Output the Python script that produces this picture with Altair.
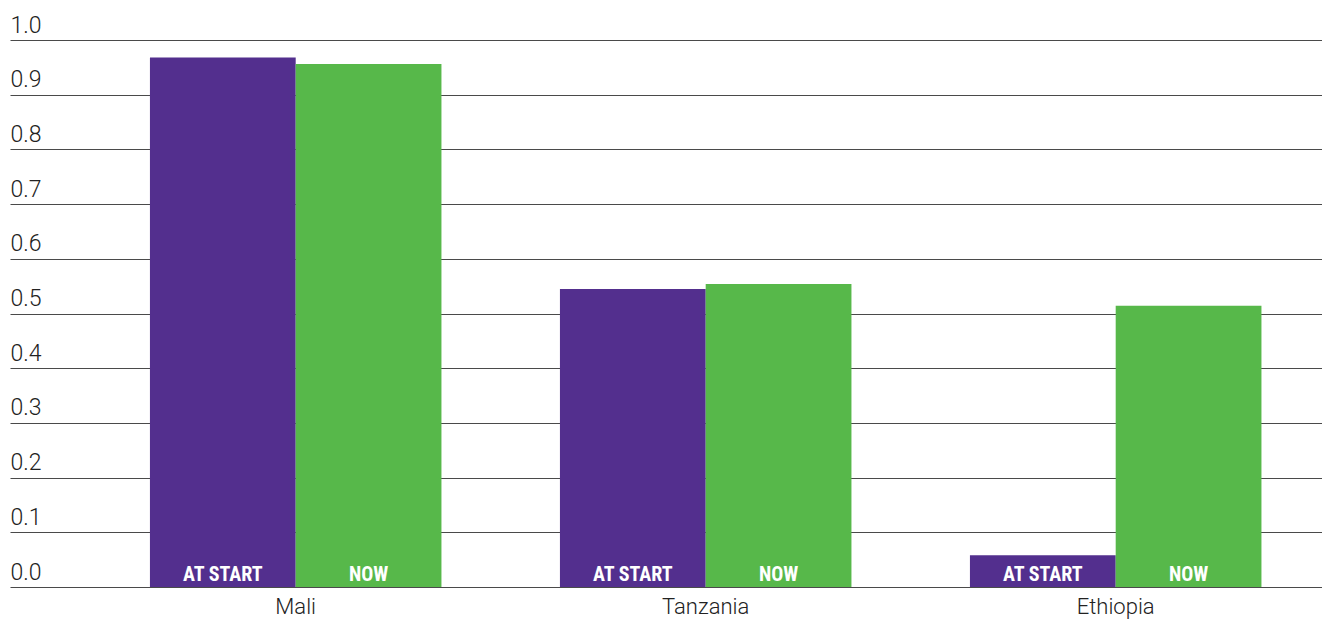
import altair as alt
import pandas as pd

countries = ["Mali", "Tanzania", "Ethiopia"]
at_start = [0.968, 0.545, 0.058]
now = [0.956, 0.554, 0.514]
series = ["AT START", "NOW"]
colors = ["#532F8E", "#57B84A"]
y_ticks = [0.0, 0.1, 0.2, 0.3, 0.4, 0.5, 0.6, 0.7, 0.8, 0.9, 1.0]

rows = []
for c, a, n in zip(countries, at_start, now):
    rows.append({"country": c, "series": series[0], "value": a})
    rows.append({"country": c, "series": series[1], "value": n})
df = pd.DataFrame(rows)

x = alt.X(
    "country:N",
    sort=countries,
    title=None,
    scale=alt.Scale(paddingInner=0.289, paddingOuter=0.2445, align=0.698),
    axis=alt.Axis(
        labelAngle=0, domain=False, ticks=False, labelPadding=26,
        labelFontSize=22, labelFont="Roboto", labelFontWeight=300,
        labelColor="#222222", labelBaseline="alphabetic",
    ),
)
xoff = alt.XOffset("series:N", sort=series, scale=alt.Scale(paddingInner=0, paddingOuter=0))

bars = alt.Chart(df).mark_bar(strokeWidth=0).encode(
    x=x,
    xOffset=xoff,
    y=alt.Y(
        "value:Q",
        title=None,
        scale=alt.Scale(domain=[0, 1], nice=False),
        axis=alt.Axis(
            values=y_ticks, format=".1f", domain=False, ticks=False,
            grid=True, gridColor="#4a4a4a", gridWidth=1.2, gridOpacity=1,
            labelAlign="left", labelBaseline="alphabetic", labelPadding=0,
            labelOffset=-8, labelFontSize=23, labelFont="Roboto",
            labelFontWeight=300, labelColor="#222222",
        ),
    ),
    color=alt.Color("series:N", sort=series,
                    scale=alt.Scale(domain=series, range=colors), legend=None),
)

labels = alt.Chart(df).mark_text(
    baseline="alphabetic", dy=-6, fontSize=20,
    font="Liberation Sans Narrow, Roboto Condensed, Roboto",
    fontWeight="bold", color="white",
).encode(
    x=x,
    xOffset=xoff,
    y=alt.datum(0),
    text="series:N",
)

chart = (
    alt.layer(bars, labels)
    .properties(
        width=1312, height=547,
        autosize=alt.AutoSizeParams(type="none"),
        padding={"left": 2, "top": 32, "right": 0, "bottom": 33},
    )
    .configure_view(stroke=None)
    .configure_axis(gridCap="butt")
)

chart.save("out.html", embed_options={"renderer": "svg", "actions": False})
